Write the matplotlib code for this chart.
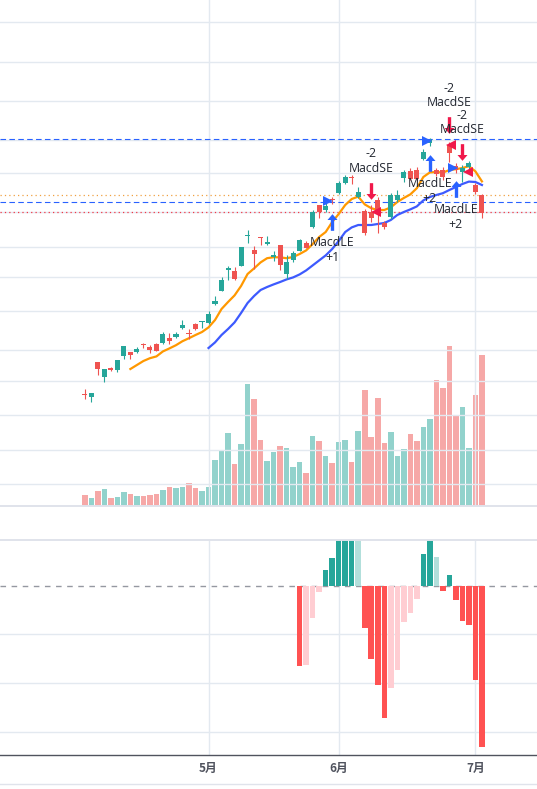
import numpy as np
import matplotlib.pyplot as plt
from matplotlib.lines import Line2D
from matplotlib.path import Path

plt.rcParams['font.family'] = ['Noto Sans CJK SC', 'DejaVu Sans']

# daily bars (price), about 3 months
opens = [7.78, 7.67, 9.40, 8.67, 9.10, 9.00, 9.70, 9.90, 9.90, 10.29,
         10.15, 10.32, 10.37, 10.62, 10.65, 11.10, 10.84, 11.29, 11.40, 11.33,
         12.32, 12.97, 14.00, 13.97, 14.22, 15.68, 15.00, 15.64, 15.29, 14.64,
         15.25, 13.79, 14.50, 14.97, 15.37, 16.13, 17.24, 16.99, 17.53, 17.84,
         18.34, 18.65, 17.67, 16.95, 16.90, 17.50, 16.35, 16.67, 17.50, 18.59,
         18.95, 18.98, 19.55, 20.35, 19.00, 19.00, 20.25, 19.20, 18.90, 19.15,
         18.25, 17.75]
highs = [8.04, 7.84, 9.40, 9.04, 9.15, 9.50, 10.20, 9.90, 10.17, 10.37,
         10.25, 10.37, 10.90, 10.87, 10.90, 11.52, 11.07, 11.34, 11.47, 11.95,
         12.70, 13.67, 14.20, 14.14, 15.15, 16.00, 15.20, 15.66, 15.70, 14.94,
         15.27, 14.74, 14.94, 15.54, 15.47, 17.00, 17.26, 17.34, 17.65, 18.43,
         18.75, 18.73, 18.13, 17.05, 17.25, 17.67, 16.45, 17.85, 18.00, 19.00,
         19.10, 19.15, 20.05, 20.60, 19.10, 19.15, 20.40, 19.35, 19.25, 19.45,
         18.35, 17.80]
lows = [7.55, 7.42, 8.75, 8.42, 8.95, 8.92, 9.57, 9.57, 9.85, 10.12,
        9.85, 9.93, 10.32, 10.32, 10.62, 11.05, 10.57, 11.02, 11.12, 11.30,
        12.25, 12.95, 13.52, 13.49, 14.20, 15.37, 14.07, 15.24, 15.27, 14.47,
        13.99, 13.55, 14.42, 14.95, 15.08, 16.10, 16.60, 16.90, 17.30, 17.80,
        18.30, 18.28, 17.60, 15.75, 16.40, 15.84, 16.05, 16.55, 17.40, 18.40,
        18.50, 18.45, 19.50, 20.20, 18.70, 18.50, 19.40, 18.85, 18.40, 19.00,
        17.80, 16.59]
closes = [7.73, 7.84, 9.04, 9.04, 9.00, 9.50, 10.20, 9.77, 10.07, 10.25,
          10.00, 9.95, 10.82, 10.45, 10.82, 11.27, 10.80, 11.07, 11.44, 11.79,
          12.45, 13.50, 14.10, 13.54, 15.15, 15.71, 14.79, 15.59, 15.42, 14.74,
          14.24, 14.42, 14.87, 15.50, 15.10, 16.90, 16.90, 17.20, 17.49, 18.34,
          18.63, 18.62, 17.88, 15.85, 16.60, 16.92, 16.15, 17.75, 17.75, 18.90,
          18.55, 18.56, 19.90, 20.48, 18.80, 18.64, 19.83, 19.00, 19.08, 19.35,
          17.92, 16.84]
# volume (10k shares)
volumes = [5.4, 3.9, 7.4, 8.4, 3.9, 4.4, 6.9, 5.9, 4.9, 4.9,
           5.4, 5.9, 7.9, 9.4, 8.9, 9.4, 11.4, 8.9, 7.4, 9.4,
           22.9, 27.9, 36.4, 20.9, 30.9, 60.9, 53.4, 32.9, 22.4, 26.9,
           29.9, 28.9, 19.4, 21.9, 16.4, 34.9, 32.4, 24.9, 21.4, 31.9,
           32.9, 21.9, 37.4, 57.9, 34.4, 53.9, 31.4, 36.9, 24.9, 28.4,
           35.9, 32.4, 39.4, 43.4, 62.9, 58.9, 79.9, 44.9, 49.4, 28.9,
           55.4, 75.4]

# moving averages (orange starts at bar 7, blue at bar 19)
ma_fast = [np.nan] * 7 + [
    9.05, 9.25, 9.45, 9.59, 9.68, 9.93, 10.08, 10.24, 10.44, 10.59,
    10.75, 10.90, 11.13, 11.50, 12.05, 12.40, 12.73, 13.20, 13.80, 14.08,
    14.38, 14.59, 14.64, 14.63, 14.59, 14.65, 14.80, 14.98, 15.30, 15.65,
    15.90, 16.40, 16.80, 17.25, 17.55, 17.67, 17.28, 17.09, 17.00, 17.00,
    17.13, 17.40, 17.60, 17.78, 18.09, 18.65, 18.88, 18.90, 18.87, 19.00,
    19.04, 19.10, 19.19, 18.93, 18.43]
ma_slow = [np.nan] * 19 + [
    10.10, 10.38, 10.75, 11.05, 11.38, 11.85, 12.35, 12.70, 13.00, 13.15,
    13.28, 13.40, 13.53, 13.63, 13.78, 13.98, 14.23, 14.48, 14.73, 15.05,
    15.45, 15.90, 16.13, 16.25, 16.25, 16.25, 16.30, 16.35, 16.50, 16.75,
    16.90, 17.03, 17.18, 17.48, 17.65, 17.75, 17.84, 18.00, 18.15, 18.30,
    18.42, 18.40, 18.25]

macd_hist = [np.nan] * 33 + [
    -0.40, -0.395, -0.16, -0.03, 0.08, 0.14, 0.26, 0.30, 0.31, 0.27,
    -0.21, -0.365, -0.495, -0.66, -0.51, -0.42, -0.18, -0.135, -0.065, 0.16,
    0.25, 0.145, -0.025, 0.055, -0.07, -0.175, -0.195, -0.47, -0.805]

month_ticks = [19, 39, 60]
month_labels = ['5月', '6月', '7月']

price_grid = [26.4, 24.4, 22.45, 20.5, 18.85, 16.9, 15.15, 13.65, 11.95, 10.0, 8.45, 6.75, 5.0, 3.3]
macd_grid = [-0.24, -0.485, -0.73]

# horizontal levels
blue_levels = [20.55, 17.39]
orange_level = 17.75
red_level = 16.90

# strategy orders
long_bars = [38, 53, 57]
long_prices = [16.38, 19.35, 18.03]
long_qty = ['+1', '+2', '+2']
short_bars = [44, 56, 58]
short_prices = [17.95, 21.23, 19.88]
short_qty = ['-2', '-2', '-2']

# small triangles
right_tri_x = [37.4, 52.5, 56.5]
right_tri_y = [17.45, 20.45, 19.08]
left_tri_x = [44.7, 56.2, 58.8]
left_tri_y = [16.90, 20.25, 18.88]

UP = '#26a69a'
DOWN = '#ef5350'
GRID = '#e3e9f0'
BLUE = '#2962ff'
ARROW_RED = '#f0184a'

o = np.array(opens); h = np.array(highs); l = np.array(lows); c = np.array(closes)
x = np.arange(len(o))
cols = np.where(c >= o, UP, DOWN)

W, H = 537, 789
fig = plt.figure(figsize=(W / 100, H / 100), dpi=100)
ax = fig.add_axes([0, 1 - 506 / H, 1, 506 / H])
ax_vol = ax.twinx()
ax.set_zorder(ax_vol.get_zorder() + 1)
ax.patch.set_visible(False)
ax_macd = fig.add_axes([0, 34 / H, 1, 215 / H])

xlim = (-13.03, 69.46)

# volume
ax_vol.bar(x, volumes, width=0.85, color=cols, alpha=0.5, linewidth=0)
ax_vol.set_ylim(0, 253)
ax_vol.set_xlim(*xlim)

# grid
for g in price_grid:
    ax.axhline(g, color=GRID, lw=1, zorder=0)
for m in month_ticks:
    ax.axvline(m, color=GRID, lw=1, zorder=0)

# level lines
for lv in blue_levels:
    ax.axhline(lv, color=BLUE, lw=0.8, ls=(0, (5, 3)), zorder=1)
ax.axhline(orange_level, color='#f0a040', lw=0.9, ls=(0, (1, 2.5)), zorder=1)
ax.axhline(red_level, color='#f23645', lw=0.9, ls=(0, (1, 2.5)), zorder=1)

# moving averages
ax.plot(x, ma_fast, color='#ff9800', lw=1.6, zorder=2)
ax.plot(x, ma_slow, color='#3d5afe', lw=1.6, zorder=2)

# candles
ax.vlines(x, l, h, colors=cols, lw=0.8, zorder=3)
ax.bar(x, np.maximum(np.abs(c - o), 0.05), bottom=np.minimum(o, c), width=0.78,
       color=cols, linewidth=0, zorder=3)

# arrows
up_arrow = Path([(0, 1), (-0.6, 0.3), (-0.2, 0.3), (-0.2, -1), (0.2, -1), (0.2, 0.3), (0.6, 0.3), (0, 1)],
                [Path.MOVETO] + [Path.LINETO] * 6 + [Path.CLOSEPOLY])
down_arrow = Path(up_arrow.vertices * [1, -1], up_arrow.codes)

ax.plot(long_bars, long_prices, ls='none', marker=up_arrow, ms=12, color=BLUE, mew=0, zorder=4)
ax.plot(short_bars, short_prices, ls='none', marker=down_arrow, ms=12, color=ARROW_RED, mew=0, zorder=4)
ax.plot(right_tri_x, right_tri_y, ls='none', marker='>', ms=7, color=BLUE, mew=0, zorder=4)
ax.plot(left_tri_x, left_tri_y, ls='none', marker='<', ms=7, color=ARROW_RED, mew=0, zorder=4)

txt = dict(textcoords='offset points', ha='center', va='center', fontsize=8.8,
           family=['Open Sans', 'DejaVu Sans'], color='#222630', zorder=5)
for b, p, q in zip(long_bars, long_prices, long_qty):
    ax.annotate('MacdLE', (b, p), xytext=(0, -14.8), **txt)
    ax.annotate(q, (b, p), xytext=(0, -25.4), **txt)
for b, p, q in zip(short_bars, short_prices, short_qty):
    ax.annotate('MacdSE', (b, p), xytext=(0, 16.5), **txt)
    ax.annotate(q, (b, p), xytext=(0, 26.8), **txt)

ax.set_xlim(*xlim)
ax.set_ylim(2.2, 27.5)

# MACD histogram
hist = np.array(macd_hist)
hcols = []
for i, v in enumerate(hist):
    p = hist[i - 1] if i > 0 else np.nan
    if np.isnan(v):
        hcols.append('none')
    elif v >= 0:
        hcols.append('#26a69a' if (np.isnan(p) or v > p) else '#b2dfdb')
    else:
        hcols.append('#ffcdd2' if (not np.isnan(p) and v > p) else '#ff5252')
ax_macd.bar(x, np.nan_to_num(hist), width=0.85, color=hcols, linewidth=0, zorder=2)
for g in macd_grid:
    ax_macd.axhline(g, color=GRID, lw=1, zorder=0)
for m in month_ticks:
    ax_macd.axvline(m, color=GRID, lw=1, zorder=0)
ax_macd.axhline(0, color='#9598a1', lw=1, ls=(0, (4, 4)), zorder=1)
ax_macd.set_xlim(*xlim)
ax_macd.set_ylim(-0.845, 0.23)

for a in (ax, ax_vol, ax_macd):
    for s in a.spines.values():
        s.set_visible(False)
    a.set_yticks([])
ax.set_xticks([])
ax_vol.set_xticks([])
ax_macd.spines['bottom'].set_visible(True)
ax_macd.spines['bottom'].set_color('#50535e')
ax_macd.spines['bottom'].set_linewidth(1)
ax_macd.set_xticks(month_ticks, month_labels)
ax_macd.tick_params(axis='x', length=0, pad=5, labelsize=8.5, labelcolor='#50535e')
for t in ax_macd.get_xticklabels():
    t.set_fontweight('bold')

# pane separators
for yy in (506, 540):
    fig.add_artist(Line2D([0, 1], [1 - yy / H, 1 - yy / H], color='#e0e3eb', lw=1.4))
fig.add_artist(Line2D([0, 1], [1 - 784 / H, 1 - 784 / H], color='#e0e3eb', lw=1))

fig.savefig('out.png', dpi=100)
